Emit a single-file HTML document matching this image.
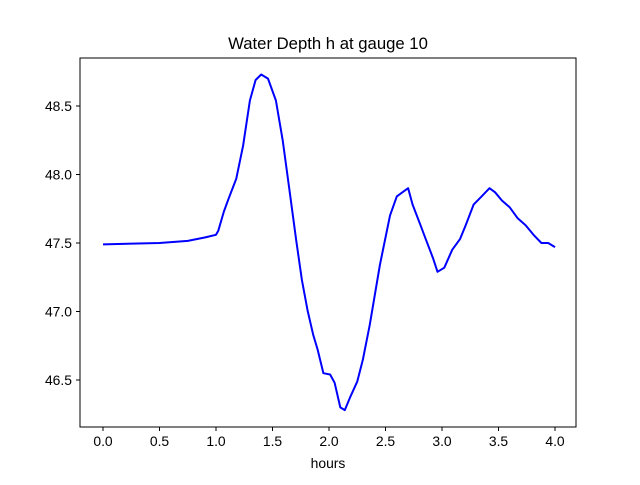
<!DOCTYPE html>
<html><head><meta charset="utf-8"><style>
body{margin:0;background:#fff;width:640px;height:480px;overflow:hidden}
svg text{font-family:"Liberation Sans","DejaVu Sans",sans-serif;fill:#000}
</style></head><body>
<svg id="chart" width="640" height="480" xmlns="http://www.w3.org/2000/svg">
<rect width="640" height="480" fill="#fff"/>
<text x="328" y="49" font-size="16.7" text-anchor="middle">Water Depth h at gauge 10</text>
<g id="ticks"></g>
<path id="series" fill="none" stroke="#0000ff" stroke-width="2" stroke-linejoin="round"/>
<rect x="80" y="58" width="496" height="369" fill="none" stroke="#000" stroke-width="1"/>
<text x="328" y="468" font-size="13.9" text-anchor="middle">hours</text>
</svg>
<script>
const hours=[0,0.5,0.75,0.9,1.0,1.02,1.07,1.11,1.18,1.24,1.30,1.35,1.40,1.46,1.53,1.59,1.65,1.71,1.76,1.81,1.86,1.90,1.95,2.01,2.05,2.10,2.14,2.19,2.25,2.30,2.36,2.45,2.54,2.60,2.65,2.70,2.74,2.81,2.86,2.92,2.96,3.02,3.09,3.16,3.21,3.28,3.35,3.42,3.47,3.53,3.60,3.67,3.74,3.81,3.88,3.94,4.0];
const depth=[47.49,47.50,47.515,47.54,47.56,47.59,47.73,47.82,47.97,48.21,48.54,48.69,48.73,48.70,48.54,48.25,47.89,47.52,47.23,47.01,46.83,46.72,46.55,46.54,46.48,46.30,46.28,46.38,46.49,46.65,46.90,47.34,47.70,47.84,47.87,47.90,47.78,47.63,47.52,47.39,47.29,47.32,47.45,47.53,47.63,47.78,47.84,47.90,47.87,47.81,47.76,47.68,47.63,47.56,47.50,47.50,47.47];
const xTicks=[0,0.5,1,1.5,2,2.5,3,3.5,4];
const yTicks=[46.5,47.0,47.5,48.0,48.5];
const xS=v=>103+v*113;
const yS=v=>106+(48.5-v)*137;
const NS="http://www.w3.org/2000/svg";
const g=document.getElementById('ticks');
xTicks.forEach(t=>{
 const l=document.createElementNS(NS,'line');
 
 
 l.setAttribute('x1',xS(t));l.setAttribute('x2',xS(t));l.setAttribute('y1',427);l.setAttribute('y2',431);l.setAttribute('stroke','#000');
 g.appendChild(l);
 const tx=document.createElementNS(NS,'text');
 
 
 tx.setAttribute('x',xS(t));tx.setAttribute('y',446);tx.setAttribute('font-size','13.9');tx.setAttribute('text-anchor','middle');
 tx.textContent=t.toFixed(1);g.appendChild(tx);
});
yTicks.forEach(t=>{
 const l=document.createElementNS(NS,'line');
 
 
 l.setAttribute('x1',76);l.setAttribute('x2',80);l.setAttribute('y1',yS(t));l.setAttribute('y2',yS(t));l.setAttribute('stroke','#000');
 g.appendChild(l);
 const tx=document.createElementNS(NS,'text');
 
 
 tx.setAttribute('x',72);tx.setAttribute('y',yS(t)+5);tx.setAttribute('font-size','13.9');tx.setAttribute('text-anchor','end');
 tx.textContent=t.toFixed(1);g.appendChild(tx);
});
document.getElementById('series').setAttribute('d',hours.map((h,i)=>(i?'L':'M')+xS(h).toFixed(1)+','+yS(depth[i]).toFixed(1)).join(''));
</script>
</body></html>
